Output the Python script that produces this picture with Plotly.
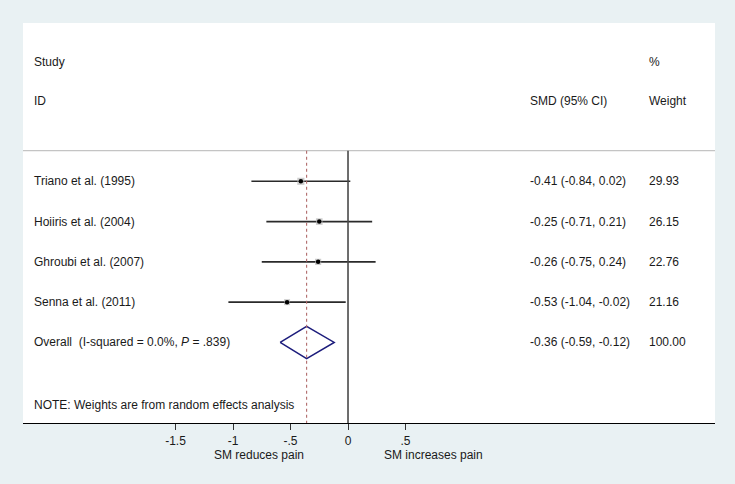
import plotly.graph_objects as go

studies = ["Triano et al. (1995)", "Hoiiris et al. (2004)", "Ghroubi et al. (2007)", "Senna et al. (2011)"]
smd = [-0.41, -0.25, -0.26, -0.53]
lo = [-0.84, -0.71, -0.75, -1.04]
hi = [0.02, 0.21, 0.24, -0.02]
weights = [29.93, 26.15, 22.76, 21.16]
overall_smd = -0.36
overall_lo = -0.59
overall_hi = -0.12
overall_weight = 100.00
overall_label = "Overall  (I-squared = 0.0%, <i>P</i> = .839)"
note = "NOTE: Weights are from random effects analysis"
tick_vals = [-1.5, -1, -0.5, 0, 0.5]
tick_text = ["-1.5", "-1", "-.5", "0", ".5"]
left_label = "SM reduces pain"
right_label = "SM increases pain"

FONT = "Liberation Sans, Arial, Helvetica, sans-serif"
FS = 12
BG = "#e9f1f3"
TXT = "#1a1a1a"

rows = list(range(1, len(studies) + 1))
y_over = len(studies) + 1

fig = go.Figure()

# CI lines
for l, h, y in zip(lo, hi, rows):
    fig.add_trace(go.Scatter(x=[l, h], y=[y, y], mode="lines",
                             line=dict(color="#2a2a2a", width=1.6),
                             showlegend=False, hoverinfo="skip"))

# weight boxes
fig.add_trace(go.Scatter(x=smd, y=rows, mode="markers",
                         marker=dict(symbol="square", color="#b8b8b8",
                                     size=[1.3 * w ** 0.5 for w in weights],
                                     line=dict(width=0)),
                         showlegend=False, hoverinfo="skip"))
# point estimates
fig.add_trace(go.Scatter(x=smd, y=rows, mode="markers",
                         marker=dict(symbol="circle", color="#000000", size=4.5,
                                     line=dict(width=0)),
                         showlegend=False, hoverinfo="skip"))

# diamond
fig.add_trace(go.Scatter(x=[overall_lo, overall_smd, overall_hi, overall_smd, overall_lo],
                         y=[y_over, y_over - 0.4, y_over, y_over + 0.4, y_over],
                         mode="lines", line=dict(color="#1c1c7c", width=1.5),
                         showlegend=False, hoverinfo="skip"))

y_top = -2.93
y_bot = 7.0
y_sep = 0.24

shapes = [
    dict(type="line", xref="paper", yref="y", x0=0, x1=1, y0=y_sep, y1=y_sep,
         line=dict(color="#c4c4c4", width=1.2)),
    dict(type="line", xref="x", yref="y", x0=0, x1=0, y0=y_sep, y1=y_bot,
         line=dict(color="#4a4a4a", width=1.6)),
    dict(type="line", xref="x", yref="y", x0=overall_smd, x1=overall_smd, y0=y_sep, y1=y_bot,
         line=dict(color="#b06a6a", width=1.1, dash="3px,3px")),
]

ann = []
def txt(x, y, t, anchor="left"):
    ann.append(dict(x=x, y=y, xref="paper", yref="y", text=t, showarrow=False,
                    xanchor=anchor, yanchor="middle",
                    font=dict(family=FONT, size=FS, color=TXT)))

X_LEFT = 0.0125
X_CI = 0.7295
X_W = 0.9015
txt(X_LEFT, -1.97, "Study")
txt(X_LEFT, -1.0, "ID")
txt(X_W, -1.97, "%")
txt(X_CI, -1.0, "SMD (95% CI)")
txt(X_W, -1.0, "Weight")
for s, m, l, h, w, y in zip(studies, smd, lo, hi, weights, rows):
    txt(X_LEFT, y, s)
    txt(X_CI, y, f"{m:.2f} ({l:.2f}, {h:.2f})")
    txt(X_W, y, f"{w:.2f}")
txt(X_LEFT, y_over, overall_label)
txt(X_CI, y_over, f"{overall_smd:.2f} ({overall_lo:.2f}, {overall_hi:.2f})")
txt(X_W, y_over, f"{overall_weight:.2f}")
txt(X_LEFT, 6.55, note)

for lab, xv in [(left_label, -0.774), (right_label, 0.742)]:
    ann.append(dict(x=xv, y=-0.08, xref="x", yref="paper", text=lab, showarrow=False,
                    xanchor="center", yanchor="middle",
                    font=dict(family=FONT, size=FS, color=TXT)))

fig.update_layout(
    width=735, height=484,
    margin=dict(l=23, r=20, t=23, b=61),
    paper_bgcolor=BG, plot_bgcolor="white",
    shapes=shapes, annotations=ann,
    xaxis=dict(range=[-2.826, 3.191], tickvals=tick_vals, ticktext=tick_text,
               showgrid=False, zeroline=False, showline=True, linecolor="#000000",
               linewidth=1.2, ticks="outside", ticklen=6, tickcolor="#333333",
               tickwidth=1.2,
               tickfont=dict(family=FONT, size=FS, color=TXT)),
    yaxis=dict(range=[y_bot, y_top], showgrid=False, zeroline=False,
               showticklabels=False, showline=False),
    font=dict(family=FONT),
)

fig.write_html("out.html", config={"displayModeBar": False},
               post_script="document.body.style.margin='0';document.body.style.background='%s';" % BG)
